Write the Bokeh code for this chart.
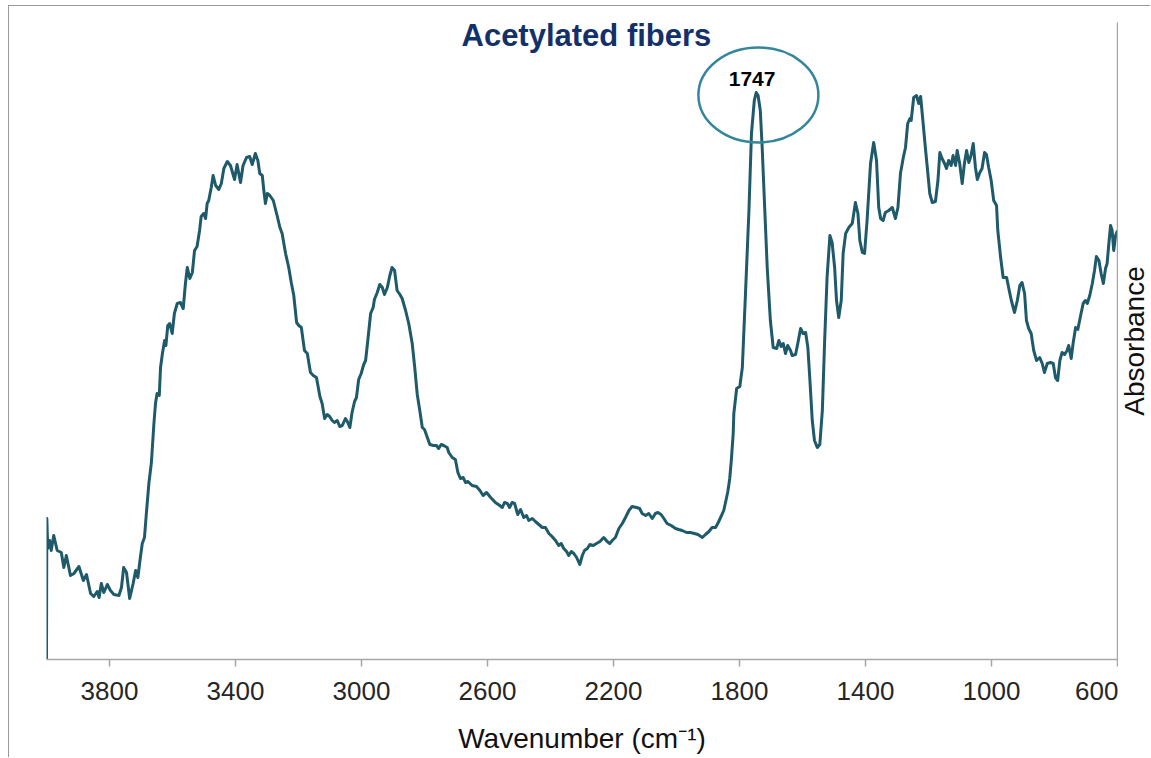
from bokeh.plotting import figure
from bokeh.layouts import row, column
from bokeh.models import Range1d, FixedTicker, LinearAxis, Label
from bokeh.core.properties import value
from bokeh.embed import file_html
from bokeh.resources import INLINE

# ---------------- data ----------------
wavenumber = [
    4000, 3999, 3996, 3990, 3985, 3977, 3966, 3953, 3945, 3937,
    3924, 3913, 3897, 3883, 3873, 3860, 3850, 3839, 3833, 3826,
    3818, 3807, 3797, 3786, 3770, 3762, 3755, 3746, 3736, 3725,
    3717, 3710, 3702, 3696, 3689, 3683, 3675, 3667, 3659, 3654,
    3649, 3642, 3638, 3632, 3625, 3621, 3615, 3609, 3601, 3594,
    3585, 3575, 3566, 3559, 3553, 3545, 3537, 3530, 3522, 3514,
    3509, 3501, 3495, 3490, 3485, 3477, 3471, 3463, 3453, 3445,
    3437, 3426, 3416, 3403, 3395, 3384, 3376, 3365, 3355, 3347,
    3337, 3329, 3323, 3315, 3310, 3305, 3299, 3291, 3280, 3268,
    3259, 3252, 3241, 3231, 3223, 3215, 3206, 3199, 3191, 3181,
    3172, 3162, 3153, 3143, 3132, 3125, 3117, 3109, 3101, 3093,
    3086, 3077, 3069, 3061, 3051, 3045, 3037, 3030, 3022, 3016,
    3009, 3001, 2993, 2987, 2980, 2971, 2963, 2959, 2950, 2942,
    2934, 2927, 2918, 2910, 2903, 2895, 2887, 2878, 2871, 2860,
    2850, 2839, 2831, 2823, 2815, 2807, 2800, 2791, 2783, 2772,
    2762, 2755, 2747, 2739, 2728, 2723, 2712, 2702, 2694, 2686,
    2677, 2670, 2662, 2649, 2635, 2624, 2614, 2603, 2590, 2575,
    2561, 2553, 2546, 2537, 2530, 2522, 2514, 2504, 2495, 2485,
    2476, 2469, 2458, 2448, 2437, 2426, 2416, 2405, 2395, 2384,
    2374, 2366, 2358, 2349, 2342, 2334, 2326, 2317, 2307, 2299,
    2292, 2283, 2275, 2264, 2254, 2243, 2231, 2220, 2212, 2201,
    2194, 2183, 2172, 2162, 2151, 2141, 2127, 2117, 2109, 2098,
    2088, 2077, 2067, 2059, 2049, 2040, 2030, 2017, 2003, 1993,
    1982, 1968, 1956, 1943, 1932, 1918, 1908, 1897, 1887, 1876,
    1869, 1860, 1850, 1841, 1837, 1831, 1826, 1820, 1818, 1809,
    1799, 1791, 1781, 1770, 1762, 1753, 1747, 1741, 1734, 1728,
    1721, 1712, 1702, 1693, 1682, 1675, 1668, 1661, 1654, 1647,
    1638, 1633, 1622, 1615, 1606, 1598, 1590, 1583, 1577, 1569,
    1562, 1553, 1545, 1537, 1530, 1522, 1513, 1506, 1498, 1492,
    1485, 1477, 1471, 1463, 1453, 1442, 1432, 1424, 1418, 1410,
    1403, 1395, 1384, 1374, 1365, 1358, 1352, 1344, 1337, 1326,
    1315, 1305, 1297, 1289, 1280, 1273, 1266, 1259, 1255, 1247,
    1238, 1231, 1225, 1217, 1210, 1202, 1196, 1188, 1178, 1170,
    1164, 1157, 1149, 1143, 1136, 1128, 1122, 1114, 1109, 1101,
    1093, 1086, 1079, 1072, 1065, 1058, 1051, 1045, 1037, 1030,
    1022, 1016, 1009, 1001, 993, 984, 980, 971, 963, 952,
    945, 937, 927, 918, 910, 903, 895, 889, 882, 874,
    866, 857, 847, 839, 832, 823, 813, 804, 797, 790,
    783, 776, 768, 760, 755, 747, 741, 733, 726, 717,
    709, 702, 696, 688, 680, 673, 667, 659, 652, 645,
    638, 633, 628, 622, 617, 612, 606, 600,
]

absorbance = [
    0.000, 0.141, 0.111, 0.119, 0.109, 0.124, 0.109, 0.107, 0.092, 0.104,
    0.084, 0.086, 0.093, 0.079, 0.085, 0.066, 0.063, 0.068, 0.062, 0.076,
    0.067, 0.075, 0.069, 0.065, 0.064, 0.072, 0.092, 0.087, 0.061, 0.076,
    0.089, 0.082, 0.102, 0.116, 0.122, 0.146, 0.176, 0.197, 0.236, 0.256,
    0.266, 0.264, 0.292, 0.306, 0.319, 0.314, 0.334, 0.336, 0.326, 0.346,
    0.356, 0.357, 0.351, 0.376, 0.392, 0.381, 0.387, 0.409, 0.413, 0.429,
    0.443, 0.446, 0.441, 0.456, 0.459, 0.472, 0.484, 0.474, 0.470, 0.476,
    0.491, 0.498, 0.494, 0.480, 0.495, 0.477, 0.494, 0.502, 0.503, 0.495,
    0.506, 0.499, 0.486, 0.484, 0.469, 0.456, 0.466, 0.464, 0.459, 0.444,
    0.432, 0.426, 0.406, 0.392, 0.377, 0.364, 0.337, 0.334, 0.332, 0.309,
    0.306, 0.287, 0.284, 0.282, 0.263, 0.256, 0.241, 0.245, 0.243, 0.239,
    0.237, 0.239, 0.233, 0.234, 0.241, 0.238, 0.232, 0.247, 0.258, 0.262,
    0.280, 0.286, 0.295, 0.299, 0.319, 0.346, 0.352, 0.360, 0.367, 0.375,
    0.372, 0.365, 0.372, 0.384, 0.392, 0.389, 0.369, 0.365, 0.361, 0.349,
    0.336, 0.316, 0.292, 0.265, 0.249, 0.232, 0.230, 0.222, 0.215, 0.214,
    0.214, 0.211, 0.215, 0.214, 0.212, 0.207, 0.202, 0.200, 0.187, 0.181,
    0.182, 0.177, 0.178, 0.174, 0.173, 0.169, 0.164, 0.167, 0.162, 0.157,
    0.154, 0.152, 0.157, 0.156, 0.152, 0.157, 0.156, 0.145, 0.150, 0.142,
    0.144, 0.139, 0.141, 0.138, 0.135, 0.132, 0.132, 0.126, 0.123, 0.119,
    0.114, 0.116, 0.111, 0.108, 0.104, 0.108, 0.106, 0.102, 0.095, 0.104,
    0.109, 0.111, 0.115, 0.114, 0.116, 0.118, 0.122, 0.118, 0.116, 0.120,
    0.122, 0.131, 0.136, 0.142, 0.149, 0.153, 0.152, 0.151, 0.146, 0.144,
    0.146, 0.141, 0.146, 0.147, 0.145, 0.141, 0.136, 0.134, 0.131, 0.130,
    0.129, 0.127, 0.127, 0.126, 0.125, 0.122, 0.125, 0.128, 0.132, 0.132,
    0.136, 0.142, 0.149, 0.162, 0.168, 0.181, 0.199, 0.226, 0.246, 0.271,
    0.273, 0.292, 0.366, 0.449, 0.526, 0.559, 0.567, 0.564, 0.549, 0.512,
    0.459, 0.392, 0.339, 0.312, 0.311, 0.319, 0.313, 0.316, 0.306, 0.314,
    0.309, 0.304, 0.305, 0.316, 0.331, 0.326, 0.327, 0.312, 0.282, 0.239,
    0.219, 0.212, 0.215, 0.249, 0.316, 0.382, 0.424, 0.417, 0.392, 0.359,
    0.342, 0.359, 0.406, 0.426, 0.432, 0.436, 0.457, 0.446, 0.419, 0.407,
    0.406, 0.439, 0.496, 0.517, 0.499, 0.452, 0.441, 0.439, 0.447, 0.449,
    0.452, 0.441, 0.452, 0.486, 0.502, 0.512, 0.536, 0.541, 0.539, 0.562,
    0.564, 0.556, 0.563, 0.536, 0.512, 0.486, 0.466, 0.457, 0.458, 0.479,
    0.507, 0.501, 0.496, 0.491, 0.499, 0.494, 0.504, 0.494, 0.509, 0.496,
    0.476, 0.496, 0.509, 0.497, 0.504, 0.516, 0.492, 0.480, 0.487, 0.491,
    0.507, 0.505, 0.492, 0.479, 0.459, 0.454, 0.429, 0.402, 0.382, 0.382,
    0.371, 0.359, 0.347, 0.359, 0.374, 0.377, 0.366, 0.339, 0.331, 0.326,
    0.309, 0.299, 0.302, 0.296, 0.287, 0.296, 0.297, 0.296, 0.282, 0.279,
    0.299, 0.307, 0.305, 0.309, 0.314, 0.301, 0.316, 0.332, 0.330, 0.344,
    0.356, 0.359, 0.356, 0.364, 0.376, 0.389, 0.403, 0.399, 0.386, 0.376,
    0.391, 0.396, 0.414, 0.434, 0.429, 0.409, 0.424, 0.429,
]

x_ticks = [3800, 3400, 3000, 2600, 2200, 1800, 1400, 1000, 600]

title_text = "Acetylated fibers"
x_title = "Wavenumber (cm\u207b\u00b9)"
y_title = "Absorbance"
peak_label = "1747"

# ---------------- main figure ----------------
FONT = "Liberation Sans"
LINE = "#1F5A6B"
GRAY = "#A6A6A6"
H = 707        # main panel height
TOP = 16
BOTTOM = 54

p = figure(width=1109, height=H, output_backend="svg", toolbar_location=None,
           x_range=Range1d(4000, 600), y_range=Range1d(0, 0.637),
           x_axis_location="below", y_axis_location=None,
           min_border_left=37, min_border_top=TOP, min_border_right=1,
           min_border_bottom=BOTTOM)
p.outline_line_color = None
p.xgrid.visible = False
p.ygrid.visible = False
p.background_fill_color = "white"
p.border_fill_color = "white"

ax = p.xaxis[0]
ax.ticker = FixedTicker(ticks=x_ticks)
ax.minor_tick_line_color = None
ax.major_tick_in = 0
ax.major_tick_out = 7
ax.axis_line_color = GRAY
ax.axis_line_width = 1.5
ax.major_tick_line_color = GRAY
ax.major_tick_line_width = 1.5
ax.major_label_text_font = FONT
ax.major_label_text_font_size = "26px"
ax.major_label_text_color = "#262626"
ax.major_label_standoff = 15

ry = LinearAxis(ticker=FixedTicker(ticks=[]), axis_line_color=GRAY, axis_line_width=1.5,
                major_tick_line_color=None, minor_tick_line_color=None,
                major_tick_out=0, major_tick_in=0,
                major_label_text_font_size="0px")
p.add_layout(ry, "right")

p.line(wavenumber, absorbance, line_color=LINE, line_width=3, line_join="round")

# annotation ellipse around the carbonyl peak
p.ellipse(x=[1740], y=[0.5645], width=[381], height=[0.095],
          fill_color=None, line_color="#34879A", line_width=2.5)

p.add_layout(Label(x=1760, y=0.581, text=peak_label, text_align="center",
                   text_baseline="alphabetic", text_font=FONT, text_font_size="21px",
                   text_font_style="bold", text_color="black"))

p.add_layout(Label(x=2286, y=0.6245, text=title_text, text_align="center",
                   text_baseline="alphabetic", text_font=FONT, text_font_size="31px",
                   text_font_style="bold", text_color="#14306A"))

# ---------------- right strip: y-axis title (reads bottom-to-top) ----------------
p2 = figure(width=32, height=H, output_backend="svg", toolbar_location=None,
            x_range=Range1d(0, 32), y_range=p.y_range,
            x_axis_location=None, y_axis_location=None,
            min_border_left=0, min_border_right=0, min_border_top=TOP,
            min_border_bottom=BOTTOM)
p2.outline_line_color = None
p2.xgrid.visible = False
p2.ygrid.visible = False
p2.text(x=[16], y=[0.3185], text=[y_title], angle=90, angle_units="deg",
        text_align="center", text_baseline="middle",
        text_font=value(FONT), text_font_size="28px", text_color="#111111")

# ---------------- bottom strip: x-axis title ----------------
p3 = figure(width=1141, height=44, output_backend="svg", toolbar_location=None,
            x_range=Range1d(0, 1141), y_range=Range1d(0, 44),
            x_axis_location=None, y_axis_location=None,
            min_border_left=0, min_border_right=0, min_border_top=0,
            min_border_bottom=0)
p3.outline_line_color = None
p3.xgrid.visible = False
p3.ygrid.visible = False
p3.text(x=[572.5], y=[19], text=[x_title], text_align="center",
        text_baseline="middle", text_font=value(FONT), text_font_size="28px",
        text_color="#111111")

layout = column(row(p, p2), p3, margin=(5, 0, 0, 8),
                styles={"border-top": "1px solid #9a9a9a", "border-left": "1px solid #9a9a9a"})

open("out.html", "w").write(file_html(layout, INLINE))
